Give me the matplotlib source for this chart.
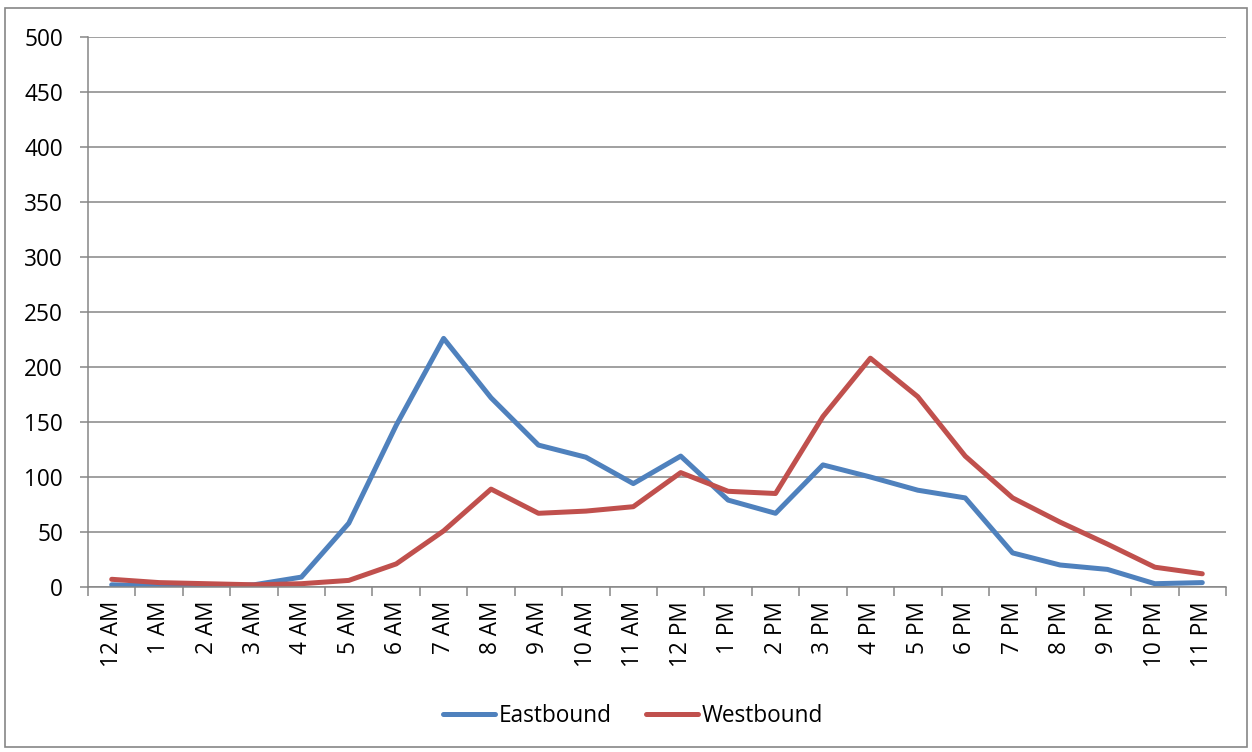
import matplotlib
matplotlib.use("Agg")
import matplotlib.pyplot as plt
import numpy as np
from matplotlib.patches import Rectangle

hours = ["12 AM", "1 AM", "2 AM", "3 AM", "4 AM", "5 AM", "6 AM", "7 AM", "8 AM",
         "9 AM", "10 AM", "11 AM", "12 PM", "1 PM", "2 PM", "3 PM", "4 PM", "5 PM",
         "6 PM", "7 PM", "8 PM", "9 PM", "10 PM", "11 PM"]
eastbound = [2, 1, 0, 2, 9, 58, 147, 226, 172, 129, 118, 94, 119, 79, 67, 111,
             100, 88, 81, 31, 20, 16, 3, 4]
westbound = [7, 4, 3, 2, 3, 6, 21, 51, 89, 67, 69, 73, 104, 87, 85, 155,
             208, 173, 119, 81, 59, 39, 18, 12]
y_ticks = [0, 50, 100, 150, 200, 250, 300, 350, 400, 450, 500]

plt.rcParams['font.family'] = ['Open Sans', 'DejaVu Sans']

fig = plt.figure(figsize=(12.52, 7.52), dpi=100)
ax = fig.add_axes([88/1252, 1-587/752, (1226-88)/1252, (587-37)/752])

grid_c = "#868686"
fs = 16.3
x = np.arange(len(hours))
ax.plot(x, eastbound, color="#4F81BD", lw=3.6, label="Eastbound", solid_joinstyle="round", solid_capstyle="round")
ax.plot(x, westbound, color="#C0504D", lw=3.6, label="Westbound", solid_joinstyle="round", solid_capstyle="round")

ax.set_xlim(-0.5, len(hours) - 0.5)
ax.set_ylim(0, 500)
ax.set_yticks(y_ticks)
ax.yaxis.grid(True, color=grid_c, lw=1.1)
ax.set_axisbelow(True)

ax.set_xticks(x)
ax.set_xticklabels(hours, rotation=90, fontsize=fs)
ax.set_xticks(np.arange(-0.5, len(hours)), minor=True)
ax.tick_params(axis='x', which='major', length=0, pad=10)
ax.tick_params(axis='x', which='minor', length=6.5, width=1.1, color=grid_c)
ax.tick_params(axis='y', which='major', length=6, width=1.1, color=grid_c, pad=12, labelsize=fs)

for s in ["top", "right"]:
    ax.spines[s].set_visible(False)
for s in ["left", "bottom"]:
    ax.spines[s].set_color(grid_c)
    ax.spines[s].set_linewidth(1.1)

fig.legend(loc="center", bbox_to_anchor=(633/1252, 1-716/752), ncol=2, frameon=False,
           fontsize=fs, handlelength=2.3, handletextpad=0.15, columnspacing=1.5)

fig.patches.append(Rectangle((5/1252, 5/752), 1242/1252, 739/752, transform=fig.transFigure,
                             fill=False, edgecolor=grid_c, lw=1.2))

fig.savefig("out.png", dpi=100)
